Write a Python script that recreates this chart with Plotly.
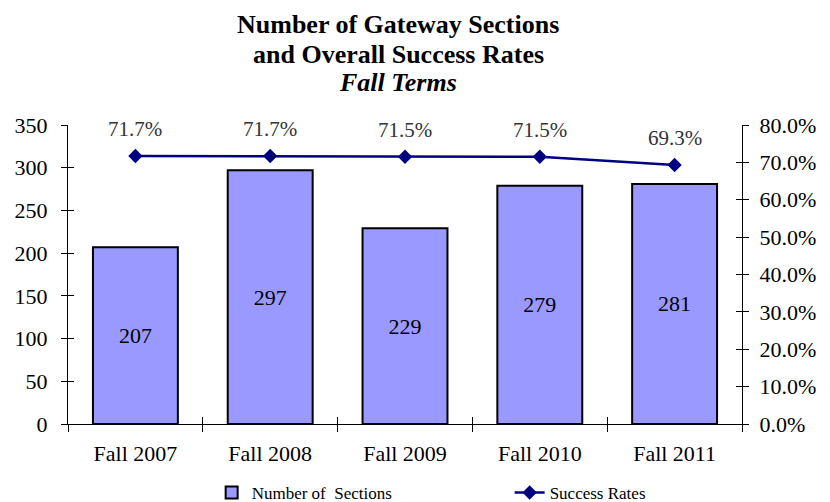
import plotly.graph_objects as go

categories = ["Fall 2007", "Fall 2008", "Fall 2009", "Fall 2010", "Fall 2011"]
sections = [207, 297, 229, 279, 281]
success_rates = [0.717, 0.717, 0.715, 0.715, 0.693]
success_labels = ["71.7%", "71.7%", "71.5%", "71.5%", "69.3%"]
title_lines = ["<b>Number of Gateway Sections</b>",
               "<b>and Overall Success Rates</b>",
               "<b><i>Fall Terms</i></b>"]

FONT = "Liberation Serif"
NAVY = "#000080"

fig = go.Figure()

fig.add_trace(go.Bar(
    x=categories, y=sections, name="Number of  Sections",
    marker=dict(color="#9999FF", line=dict(color="black", width=2)),
    text=[str(v) for v in sections], textposition="inside",
    insidetextanchor="middle",
    textfont=dict(family=FONT, size=22, color="black"),
    xaxis="x", yaxis="y",
))

fig.add_trace(go.Scatter(
    x=categories, y=success_rates, name="Success Rates",
    mode="lines+markers",
    line=dict(color=NAVY, width=2.5),
    marker=dict(symbol="diamond", size=11, color=NAVY),
    xaxis="x", yaxis="y2",
))

# invisible traces to draw inward half of the crossing tick marks
fig.add_trace(go.Scatter(x=categories, y=sections, mode="markers",
                         marker=dict(opacity=0), showlegend=False,
                         hoverinfo="skip", xaxis="x2", yaxis="y3"))
fig.add_trace(go.Scatter(x=categories, y=success_rates, mode="markers",
                         marker=dict(opacity=0), showlegend=False,
                         hoverinfo="skip", xaxis="x2", yaxis="y4"))

for c, v, lab in zip(categories, success_rates, success_labels):
    fig.add_annotation(x=c, y=v, xref="x", yref="y2", text=lab,
                       showarrow=False, yshift=27,
                       font=dict(family=FONT, size=21, color="#333333"))

# title lines
for line, ty in zip(title_lines, [1.335, 1.235, 1.142]):
    fig.add_annotation(x=0.49, y=ty, xref="paper", yref="paper", text=line,
                       showarrow=False, xanchor="center", yanchor="middle",
                       font=dict(family=FONT, size=26, color="black"))

tickfont = dict(family=FONT, size=22, color="black")

fig.update_layout(
    width=830, height=502,
    paper_bgcolor="white", plot_bgcolor="white",
    margin=dict(l=68, r=88, t=125, b=78),
    bargap=0.37,
    xaxis=dict(type="category", categoryarray=categories, showline=True,
               linecolor="black", linewidth=1, ticks="outside", ticklen=7,
               tickcolor="black", tickson="boundaries", tickfont=tickfont,
               showgrid=False, zeroline=False, range=[-0.5, 4.5],
               automargin=False, ticklabelstandoff=10),
    xaxis2=dict(type="category", categoryarray=categories, overlaying="x",
                anchor="y", side="bottom", ticks="inside", ticklen=7,
                tickcolor="black", tickson="boundaries", showticklabels=False,
                showgrid=False, zeroline=False, showline=False,
                range=[-0.5, 4.5], automargin=False),
    yaxis=dict(range=[0, 350], dtick=50, showline=True, linecolor="black",
               linewidth=1, ticks="outside", ticklen=6, tickcolor="black",
               tickfont=tickfont, showgrid=False, zeroline=False,
               ticklabelstandoff=9, automargin=False),
    yaxis2=dict(range=[0, 0.8], dtick=0.1, tickformat=".1%", overlaying="y",
                side="right", anchor="x", showline=True, linecolor="black",
                linewidth=1, ticks="outside", ticklen=6, tickcolor="black",
                tickfont=tickfont, showgrid=False, zeroline=False,
                ticklabelstandoff=6, automargin=False),
    yaxis3=dict(range=[0, 350], dtick=50, overlaying="y", side="left",
                anchor="x2", ticks="inside", ticklen=6, tickcolor="black",
                showticklabels=False, showgrid=False, zeroline=False,
                showline=False, automargin=False),
    yaxis4=dict(range=[0, 0.8], dtick=0.1, overlaying="y", side="right",
                anchor="x2", ticks="inside", ticklen=6, tickcolor="black",
                showticklabels=False, showgrid=False, zeroline=False,
                showline=False, automargin=False),
    legend=dict(orientation="h", x=0.255, xanchor="left", xref="container",
                y=0.018, yanchor="middle", yref="container",
                font=dict(family=FONT, size=17, color="black"),
                entrywidth=253, traceorder="normal"),
    showlegend=True,
)

fig.write_html("out.html",
               config={"displayModeBar": False},
               post_script="document.body.style.margin='0px';")
